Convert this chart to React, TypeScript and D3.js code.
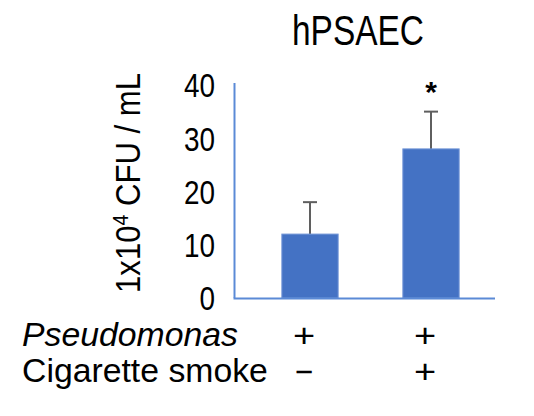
import { useEffect, useRef } from "react";
import * as d3 from "d3";

const groups = ["PA", "PA+CS"];
const means = [12, 28];
const errors = [6, 7];
const pseudomonasSigns = ["+", "+"];
const smokeSigns = ["\u2212", "+"];
const significance = ["", "*"];
const yTicks = [0, 10, 20, 30, 40];

const FONT = "'Liberation Sans Narrow', 'Arial Narrow', 'Liberation Sans', Arial, sans-serif";
const NARROW = 0.82;

const App = () => {
  const svgRef = useRef<SVGSVGElement | null>(null);

  useEffect(() => {
    const svg = d3.select(svgRef.current);
    svg.selectAll("*").remove();

    const width = 534;
    const height = 416;
    svg.attr("viewBox", `0 0 ${width} ${height}`);

    const axisX = 234.5;
    const baseY = 298;

    const y = d3.scaleLinear().domain([0, 40]).range([baseY, 85]);
    const x = d3
      .scaleBand<string>()
      .domain(groups)
      .range([249.5, 491.5])
      .paddingInner(0.535)
      .paddingOuter(0.2675);

    // squeeze text to a target width (no narrow font installed)
    const fit = (
      node: d3.Selection<SVGTextElement, unknown, null, undefined>,
      target: number
    ) => {
      const w = (node.node() as SVGTextElement).getComputedTextLength();
      return w > 0 ? target / w : NARROW;
    };

    const label = (
      tx: number,
      ty: number,
      txt: string,
      size: number,
      target: number,
      anchor = "start",
      italic = false
    ) => {
      const gg = svg.append("g");
      const t = gg
        .append("text")
        .attr("text-anchor", anchor)
        .attr("font-family", FONT)
        .attr("font-size", size)
        .attr("font-style", italic ? "italic" : "normal")
        .attr("fill", "#000")
        .text(txt);
      gg.attr("transform", `translate(${tx},${ty}) scale(${fit(t, target)},1)`);
    };

    // title
    label(358, 45, "hPSAEC", 43, 132, "middle");

    // y label
    const yg = svg.append("g");
    const yl = yg
      .append("text")
      .attr("text-anchor", "middle")
      .attr("font-family", FONT)
      .attr("font-size", 35)
      .attr("fill", "#000");
    yl.append("tspan").text("1x10");
    yl.append("tspan").attr("font-size", 22).attr("dy", -12).text("4");
    yl.append("tspan").attr("dy", 12).text(" CFU / mL");
    const ylw = (yl.node() as SVGTextElement).getBBox().width;
    yg.attr(
      "transform",
      `translate(140,183) rotate(-90) scale(${ylw > 0 ? 220 / ylw : NARROW},1)`
    );

    // tick labels
    svg
      .append("g")
      .selectAll("g")
      .data(yTicks)
      .join("g")
      .attr("transform", (d) => `translate(215,${y(d)}) scale(${NARROW},1)`)
      .append("text")
      .attr("dy", "0.36em")
      .attr("text-anchor", "end")
      .attr("font-family", FONT)
      .attr("font-size", 34)
      .attr("fill", "#000")
      .text((d) => d);

    // axes
    svg
      .append("line")
      .attr("x1", axisX)
      .attr("x2", axisX)
      .attr("y1", y(40) - 2)
      .attr("y2", baseY)
      .attr("stroke", "#5b8ad6")
      .attr("stroke-width", 2);

    const bw = x.bandwidth();
    const g = svg.append("g");

    // error bars
    groups.forEach((k, i) => {
      const cx = (x(k) ?? 0) + bw / 2;
      const top = y(means[i] + errors[i]);
      g.append("line")
        .attr("x1", cx)
        .attr("x2", cx)
        .attr("y1", y(means[i]))
        .attr("y2", top)
        .attr("stroke", "#5f5f5f")
        .attr("stroke-width", 2);
      g.append("line")
        .attr("x1", cx - 7)
        .attr("x2", cx + 7)
        .attr("y1", top)
        .attr("y2", top)
        .attr("stroke", "#5f5f5f")
        .attr("stroke-width", 2);
      if (significance[i]) {
        g.append("text")
          .attr("x", cx)
          .attr("y", top - 10)
          .attr("text-anchor", "middle")
          .attr("font-family", FONT)
          .attr("font-weight", "bold")
          .attr("font-size", 30)
          .attr("fill", "#000")
          .text(significance[i]);
      }
    });

    // bars
    g.selectAll("rect")
      .data(groups)
      .join("rect")
      .attr("x", (d) => x(d) ?? 0)
      .attr("y", (_, i) => y(means[i]))
      .attr("width", bw)
      .attr("height", (_, i) => baseY - y(means[i]))
      .attr("fill", "#4472c4")
      .attr("stroke", "#6f93d6")
      .attr("stroke-width", 1);

    svg
      .append("line")
      .attr("x1", axisX - 1)
      .attr("x2", 495)
      .attr("y1", baseY + 0.5)
      .attr("y2", baseY + 0.5)
      .attr("stroke", "#5b8ad6")
      .attr("stroke-width", 2);

    // condition rows
    label(22, 346, "Pseudomonas", 33, 216, "start", true);
    label(22, 382, "Cigarette smoke", 33, 246, "start");

    const rows: [string[], number][] = [
      [pseudomonasSigns, 347],
      [smokeSigns, 383],
    ];
    rows.forEach(([signs, yy]) => {
      svg
        .append("g")
        .selectAll("g")
        .data(groups)
        .join("g")
        .attr(
          "transform",
          (d, i) =>
            `translate(${(x(d) ?? 0) + bw / 2 - 6},${yy}) scale(${
              signs[i] === "+" ? 1.15 : 0.95
            },1)`
        )
        .append("text")
        .attr("text-anchor", "middle")
        .attr("font-family", FONT)
        .attr("font-size", 33)
        .attr("fill", "#000")
        .text((_, i) => signs[i]);
    });
  }, []);

  return (
    <svg
      ref={svgRef}
      width={534}
      height={416}
      style={{ position: "absolute", left: 0, top: 0, background: "#fff" }}
    />
  );
};

export default App;
